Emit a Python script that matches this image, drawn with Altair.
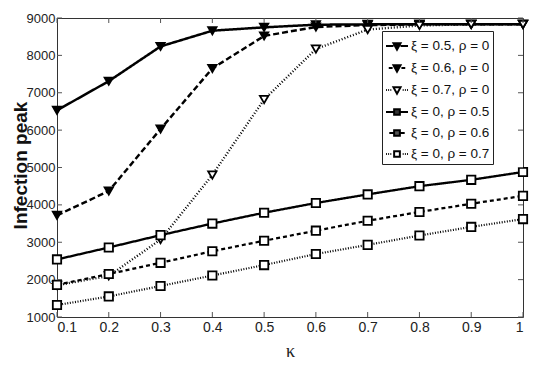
import altair as alt
import pandas as pd

kappa = [0.1, 0.2, 0.3, 0.4, 0.5, 0.6, 0.7, 0.8, 0.9, 1.0]
series_names = ["ξ = 0.5, ρ = 0", "ξ = 0.6, ρ = 0", "ξ = 0.7, ρ = 0",
                "ξ = 0, ρ = 0.5", "ξ = 0, ρ = 0.6", "ξ = 0, ρ = 0.7"]
s1 = [6530, 7310, 8240, 8660, 8750, 8820, 8830, 8830, 8830, 8830]
s2 = [3720, 4370, 6030, 7650, 8520, 8760, 8810, 8830, 8830, 8830]
s3 = [1850, 2100, 3070, 4800, 6820, 8170, 8690, 8800, 8830, 8830]
s4 = [2540, 2860, 3190, 3500, 3790, 4050, 4280, 4500, 4670, 4880]
s5 = [1860, 2150, 2450, 2760, 3040, 3310, 3575, 3810, 4030, 4240]
s6 = [1320, 1550, 1830, 2110, 2390, 2685, 2930, 3180, 3410, 3620]
all_series = [s1, s2, s3, s4, s5, s6]

x_ticks = [0.1, 0.2, 0.3, 0.4, 0.5, 0.6, 0.7, 0.8, 0.9, 1.0]
y_ticks = [1000, 2000, 3000, 4000, 5000, 6000, 7000, 8000, 9000]

rows = []
for name, vals in zip(series_names, all_series):
    for k, v in zip(kappa, vals):
        rows.append({"series": name, "kappa": k, "peak": v})
df = pd.DataFrame(rows)
xt = pd.DataFrame({"kappa": x_ticks})
yt = pd.DataFrame({"peak": y_ticks})
leg_df = pd.DataFrame({"series": series_names})

W, H = 466, 299
FONT = "Liberation Sans"

xscale = alt.Scale(domain=[0.1, 1.0], nice=False, zero=False)
yscale = alt.Scale(domain=[1000, 9000], nice=False, zero=False)
sdom = series_names

x_axis = alt.Axis(values=x_ticks, format=".1~f", ticks=False, grid=False, domain=False,
                  labelFontSize=14, labelFont=FONT, labelColor="#222", labelPadding=3,
                  labelOverlap=False,
                  title="κ", titleFont="Liberation Serif", titleFontSize=18,
                  titleFontWeight="normal", titleColor="#222",
                  titleY=39, titleBaseline="alphabetic")
y_axis = alt.Axis(values=y_ticks, format="d", ticks=False, grid=False, domain=False,
                  labelFontSize=13, labelFont=FONT, labelColor="#222", labelPadding=2,
                  labelOverlap=False,
                  title="Infection peak", titleFont=FONT, titleFontSize=19,
                  titleFontWeight="bold", titleColor="#111",
                  titleX=-31, titleY=147, titleAngle=270,
                  titleAlign="center", titleBaseline="alphabetic")

def xe():
    return alt.X("kappa:Q", scale=xscale, axis=x_axis)

def ye():
    return alt.Y("peak:Q", scale=yscale, axis=y_axis)

lines = alt.Chart(df).mark_line(color="black").encode(
    x=xe(), y=ye(),
    strokeDash=alt.StrokeDash("series:N", scale=alt.Scale(
        domain=sdom, range=[[1, 0], [6, 3], [1, 2], [1, 0], [4, 3], [1, 1.6]]), legend=None),
    strokeWidth=alt.StrokeWidth("series:N", scale=alt.Scale(
        domain=sdom, range=[2.5, 2.2, 1.2, 2.5, 2.5, 1.8]), legend=None),
)

points = alt.Chart(df).mark_point(stroke="black", strokeWidth=1.8, opacity=1).encode(
    x=xe(), y=ye(),
    shape=alt.Shape("series:N", scale=alt.Scale(
        domain=sdom, range=["triangle-down"] * 3 + ["square"] * 3), legend=None),
    fill=alt.Fill("series:N", scale=alt.Scale(
        domain=sdom, range=["black", "black", "white", "white", "white", "white"]), legend=None),
    size=alt.Size("series:N", scale=alt.Scale(
        domain=sdom, range=[70, 70, 70, 38, 38, 38]), legend=None),
)

tri = "M-0.32,-0.24L0.32,-0.24L0,0.34Z"
sq = "M-0.26,-0.26H0.26V0.26H-0.26Z"
solid_t = "M-1,0H-0.32M0.32,0H1"
solid_s = "M-1,0H-0.26M0.26,0H1"
dash_t = "M-0.75,0H-0.4M0.4,0H0.75"
dash_s = "M-0.7,0H-0.33M0.33,0H0.7"
dot = "M-1,0H-0.92M-0.8,0H-0.72M-0.6,0H-0.52M0.52,0H0.6M0.72,0H0.8M0.92,0H1"
leg_paths = [solid_t + tri, dash_t + tri, dot + tri, solid_s + sq, dash_s + sq, dot + sq]

leg_props = dict(title=None, orient="none", legendX=325, legendY=13,
                 labelFont=FONT, labelFontSize=13.5, labelColor="#111",
                 fillColor="white", strokeColor="#222", padding=3,
                 rowPadding=2, labelOffset=2, symbolStrokeWidth=2,
                 symbolSize=484)

legend_layer = alt.Chart(leg_df).transform_filter("false").mark_point(
    stroke="black", strokeWidth=2, opacity=1, size=484).encode(
    x=alt.value(0), y=alt.value(0),
    shape=alt.Shape("series:N", scale=alt.Scale(domain=sdom, range=leg_paths),
                    legend=alt.Legend(**leg_props)),
    fill=alt.Fill("series:N", scale=alt.Scale(
        domain=sdom, range=["black", "black", "white", "#333", "#555", "white"]),
        legend=alt.Legend(**leg_props)),
)

tick_color = "#555"
xt_bottom = alt.Chart(xt).mark_rule(color=tick_color, strokeWidth=1).encode(
    x=xe(), y=alt.value(H), y2=alt.value(H - 5))
xt_top = alt.Chart(xt).mark_rule(color=tick_color, strokeWidth=1).encode(
    x=xe(), y=alt.value(0), y2=alt.value(5))
yt_left = alt.Chart(yt).mark_rule(color=tick_color, strokeWidth=1).encode(
    y=ye(), x=alt.value(0), x2=alt.value(5))
yt_right = alt.Chart(yt).mark_rule(color=tick_color, strokeWidth=1).encode(
    y=ye(), x=alt.value(W), x2=alt.value(W - 5))

chart = alt.layer(
    lines, points, xt_bottom, xt_top, yt_left, yt_right, legend_layer
).resolve_scale(
    shape="independent", fill="independent", size="independent",
    strokeDash="independent", strokeWidth="independent"
).properties(
    width=W, height=H,
    autosize=alt.AutoSizeParams(type="none"),
    padding={"left": 49, "top": 10, "right": 9, "bottom": 44},
    background="white",
).configure_view(stroke="#333", strokeWidth=1)

chart.save("out.html", embed_options={"renderer": "svg", "actions": False})
